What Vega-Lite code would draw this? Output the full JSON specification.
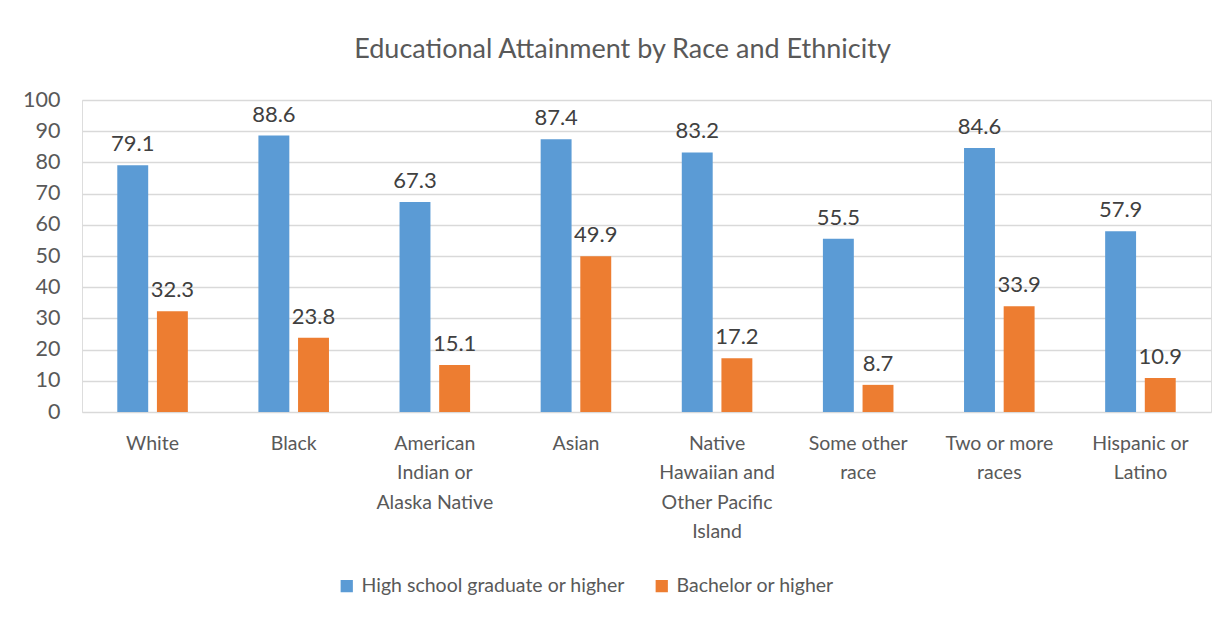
{
  "$schema": "https://vega.github.io/schema/vega-lite/v6.json",
  "autosize": "none",
  "width": 1129,
  "height": 312,
  "padding": {"left": 82, "top": 100, "right": 14, "bottom": 206},
  "background": "white",
  "title": {
    "text": "Educational Attainment by Race and Ethnicity",
    "anchor": "middle",
    "frame": "group",
    "dx": -24,
    "offset": 25,
    "font": "Lato",
    "fontSize": 27,
    "fontWeight": "normal",
    "color": "#595959"
  },
  "data": {
    "values": [
      {"group": "White", "measure": "High school graduate or higher", "value": 79.1},
      {"group": "White", "measure": "Bachelor or higher", "value": 32.3},
      {"group": "Black", "measure": "High school graduate or higher", "value": 88.6},
      {"group": "Black", "measure": "Bachelor or higher", "value": 23.8},
      {"group": "American Indian or Alaska Native", "measure": "High school graduate or higher", "value": 67.3},
      {"group": "American Indian or Alaska Native", "measure": "Bachelor or higher", "value": 15.1},
      {"group": "Asian", "measure": "High school graduate or higher", "value": 87.4},
      {"group": "Asian", "measure": "Bachelor or higher", "value": 49.9},
      {"group": "Native Hawaiian and Other Pacific Island", "measure": "High school graduate or higher", "value": 83.2},
      {"group": "Native Hawaiian and Other Pacific Island", "measure": "Bachelor or higher", "value": 17.2},
      {"group": "Some other race", "measure": "High school graduate or higher", "value": 55.5},
      {"group": "Some other race", "measure": "Bachelor or higher", "value": 8.7},
      {"group": "Two or more races", "measure": "High school graduate or higher", "value": 84.6},
      {"group": "Two or more races", "measure": "Bachelor or higher", "value": 33.9},
      {"group": "Hispanic or Latino", "measure": "High school graduate or higher", "value": 57.9},
      {"group": "Hispanic or Latino", "measure": "Bachelor or higher", "value": 10.9}
    ]
  },
  "encoding": {
    "x": {
      "field": "group",
      "type": "nominal",
      "sort": null,
      "scale": {"paddingInner": 0.5, "paddingOuter": 0.25},
      "axis": {
        "title": null,
        "labelAngle": 0,
        "domain": false,
        "ticks": false,
        "labelPadding": 22,
        "labelFont": "Lato",
        "labelFontSize": 19.5,
        "labelColor": "#595959",
        "labelLineHeight": 29.5,
        "labelBaseline": "top",
        "labelLimit": 200,
        "labelExpr": "datum.value == 'American Indian or Alaska Native' ? ['American', 'Indian or', 'Alaska Native'] : datum.value == 'Native Hawaiian and Other Pacific Island' ? ['Native', 'Hawaiian and', 'Other Pacific', 'Island'] : datum.value == 'Some other race' ? ['Some other', 'race'] : datum.value == 'Two or more races' ? ['Two or more', 'races'] : datum.value == 'Hispanic or Latino' ? ['Hispanic or', 'Latino'] : datum.value"
      }
    },
    "xOffset": {
      "field": "measure",
      "type": "nominal",
      "sort": ["High school graduate or higher", "Bachelor or higher"],
      "scale": {"paddingInner": 0.22, "paddingOuter": 0}
    },
    "y": {
      "field": "value",
      "type": "quantitative",
      "scale": {"domain": [0, 100], "nice": false},
      "axis": {
        "title": null,
        "values": [0, 10, 20, 30, 40, 50, 60, 70, 80, 90, 100],
        "domain": false,
        "ticks": false,
        "labelPadding": 22,
        "labelFont": "Lato",
        "labelFontSize": 21.5,
        "labelColor": "#595959",
        "grid": true,
        "gridColor": "#D9D9D9",
        "gridWidth": 1.3
      }
    }
  },
  "layer": [
    {
      "mark": {"type": "bar"},
      "encoding": {
        "color": {
          "field": "measure",
          "type": "nominal",
          "sort": ["High school graduate or higher", "Bachelor or higher"],
          "scale": {"range": ["#5B9BD5", "#ED7D31"]},
          "legend": {
            "title": null,
            "orient": "none",
            "direction": "horizontal",
            "legendX": 255,
            "legendY": 476,
            "symbolType": "square",
            "symbolSize": 150,
            "symbolStrokeWidth": 0,
            "labelFont": "Lato",
            "labelFontSize": 19.5,
            "labelColor": "#595959",
            "labelOffset": 5,
            "columnPadding": 27,
            "labelLimit": 400
          }
        }
      }
    },
    {
      "mark": {
        "type": "text",
        "baseline": "alphabetic",
        "dy": -14,
        "font": "Lato",
        "fontSize": 22,
        "color": "#404040"
      },
      "encoding": {
        "text": {"field": "value", "type": "quantitative", "format": ".1f"}
      }
    }
  ]
}
